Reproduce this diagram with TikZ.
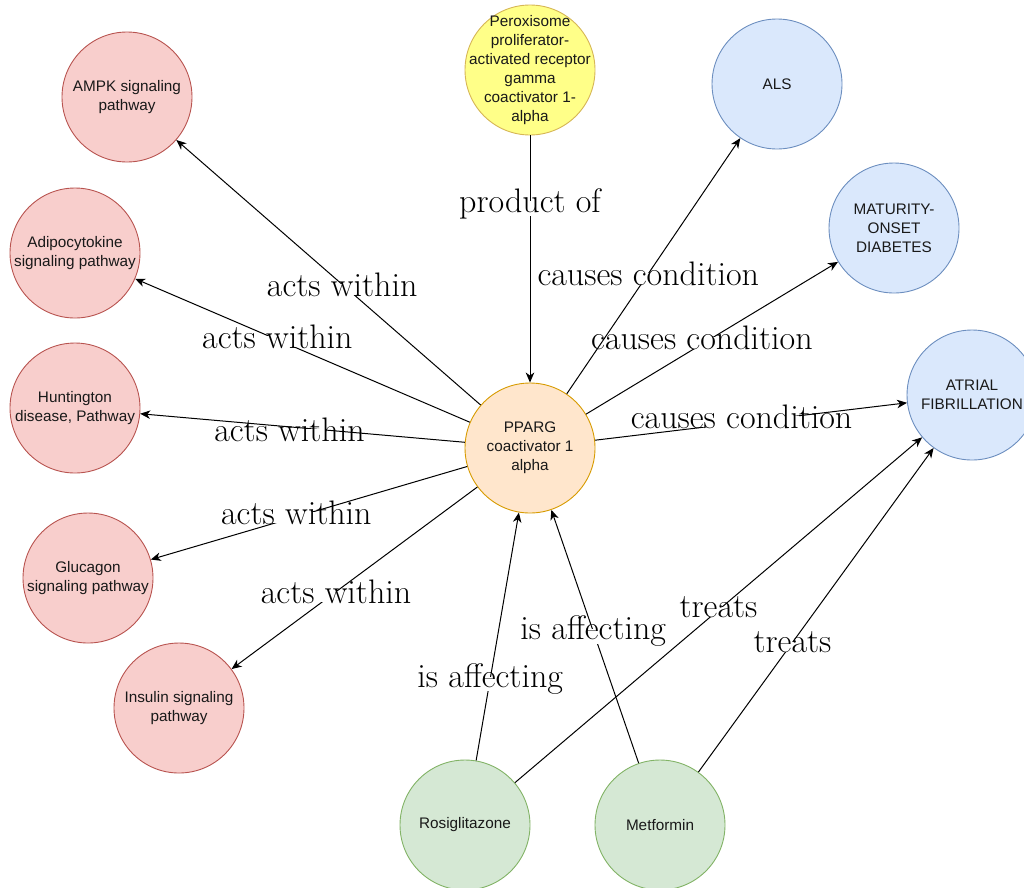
\documentclass[tikz,border=0pt]{standalone}
\usepackage{fontspec}
\setsansfont{Liberation Sans}
\usetikzlibrary{arrows.meta}
\definecolor{redF}{HTML}{F8CECC}
\definecolor{redD}{HTML}{B85450}
\definecolor{yelF}{HTML}{FFFF88}
\definecolor{yelD}{HTML}{D6B656}
\definecolor{oraF}{HTML}{FFE6CC}
\definecolor{oraD}{HTML}{D79B00}
\definecolor{bluF}{HTML}{DAE8FC}
\definecolor{bluD}{HTML}{6C8EBF}
\definecolor{greF}{HTML}{D5E8D4}
\definecolor{greD}{HTML}{82B366}
\begin{document}
\begin{tikzpicture}[x=1pt,y=-1pt,
  ntext/.style={align=center, font=\sffamily\fontsize{15.3}{19}\selectfont, text=black!90},
  base/.style={circle, draw, line width=0.9pt, minimum size=130pt, inner sep=0pt, ntext},
  pathnode/.style={base, fill=redF, draw=redD},
  yelnode/.style={base, fill=yelF, draw=yelD},
  oranode/.style={base, fill=oraF, draw=oraD},
  blunode/.style={base, fill=bluF, draw=bluD},
  grenode/.style={base, fill=greF, draw=greD},
  conn/.style={line width=1pt, -{Stealth[length=10pt,width=8.5pt,inset=3pt]}},
  elab/.style={fill=white, inner sep=0pt, yshift=-5pt,
    font=\sffamily\fontsize{15.3}{19}\selectfont,
    label={[font=\fontsize{34}{40}\selectfont, inner sep=0pt, yshift=5pt, text=black]center:#1}},
]
\useasboundingbox (0,0) rectangle (1024,887);

\node[pathnode] (ampk) at (127,97) {AMPK signaling\\pathway};
\node[pathnode] (adipo) at (75,253) {Adipocytokine\\signaling pathway};
\node[pathnode] (hunt) at (75,408) {Huntington\\disease, Pathway};
\node[pathnode] (gluc) at (88,578) {Glucagon\\signaling pathway};
\node[pathnode] (insu) at (179,708) {Insulin signaling\\pathway};
\node[yelnode, label={[ntext]center:{Peroxisome\\proliferator-\\activated receptor\\gamma\\coactivator 1-\\alpha}}] (perox) at (530,70) {};
\node[oranode] (pparg) at (530,448) {PPARG\\coactivator 1\\alpha};
\node[blunode] (als) at (777,84) {ALS};
\node[blunode] (mody) at (894,228) {MATURITY-\\ONSET\\DIABETES};
\node[blunode] (af) at (972,395) {ATRIAL\\FIBRILLATION};
\node[grenode] (rosi) at (465,825) {Rosiglitazone};
\node[grenode] (metf) at (660,825) {Metformin};

\draw[conn] (perox) -- node[elab={product of}, pos=.275] {\phantom{product of}} (pparg);
\draw[conn] (pparg) -- node[elab={causes condition}, pos=.47] {\phantom{causes condition}} (als);
\draw[conn] (pparg) -- node[elab={causes condition}, pos=.46, yshift=6pt] {\phantom{causes condition}} (mody);
\draw[conn] (pparg) -- node[elab={causes condition}, pos=.47, yshift=6pt] {\phantom{causes condition}} (af);
\draw[conn] (pparg) -- node[elab={acts within}, pos=.455] {\phantom{acts within}} (ampk);
\draw[conn] (pparg) -- node[elab={acts within}, pos=.575, yshift=3pt] {\phantom{acts within}} (adipo);
\draw[conn] (pparg) -- node[elab={acts within}, pos=.54, yshift=-3pt] {\phantom{acts within}} (hunt);
\draw[conn] (pparg) -- node[elab={acts within}, pos=.54, yshift=4pt] {\phantom{acts within}} (gluc);
\draw[conn] (pparg) -- node[elab={acts within}, pos=.575] {\phantom{acts within}} (insu);
\draw[conn] (rosi) -- node[elab={is affecting}, pos=.33] {\phantom{is affecting}} (pparg);
\draw[conn] (metf) -- node[elab={is affecting}, pos=.52] {\phantom{is affecting}} (pparg);
\draw[conn] (rosi) -- node[elab={treats}, pos=.50, yshift=3pt] {\phantom{treats}} (af);
\draw[conn] (metf) -- node[elab={treats}, pos=.40] {\phantom{treats}} (af);
\end{tikzpicture}
\end{document}
